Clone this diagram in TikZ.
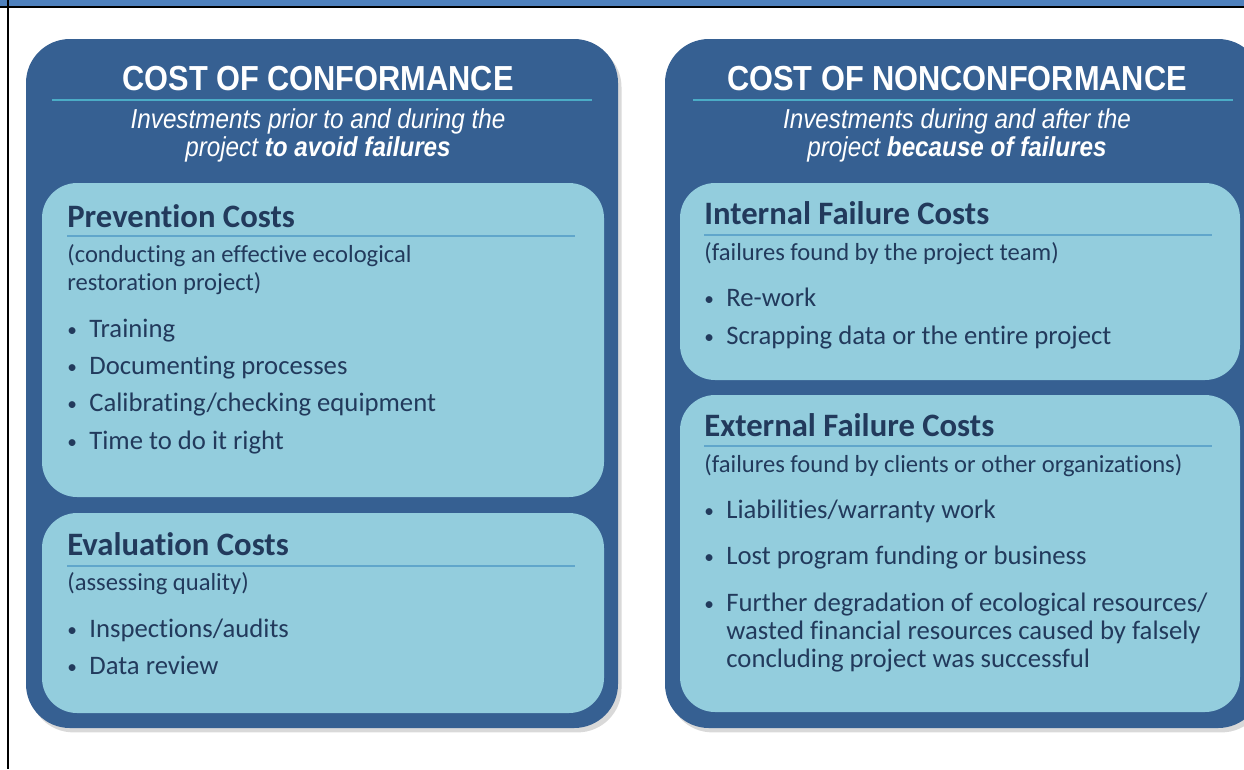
\documentclass[tikz,border=0pt]{standalone}
\usepackage{graphicx}
\usepackage{fontspec}
\setmainfont{Carlito}[Ligatures=NoCommon]
\newfontfamily\arialfont{Liberation Sans}
\usetikzlibrary{shadows}

\definecolor{bandblue}{RGB}{79,129,189}
\definecolor{panelblue}{RGB}{54,96,146}
\definecolor{boxblue}{RGB}{147,205,221}
\definecolor{inkblue}{RGB}{34,58,92}
\definecolor{ruleblue}{RGB}{96,166,203}
\definecolor{titlerule}{RGB}{75,172,198}

% Arial-style lettering in the panel headers is a bit taller than wide
\newcommand{\tallish}[1]{\scalebox{1}[1.13]{#1}}
\newcommand{\smallbullet}{{\fontsize{11}{11}\selectfont\raisebox{0.5pt}{\textbullet}}}

\tikzset{
  panel/.style={fill=panelblue, rounded corners=25pt,
    drop shadow={shadow xshift=2pt, shadow yshift=-2.5pt, opacity=0.3}},
  costbox/.style={fill=boxblue, rounded corners=20pt},
  title/.style={anchor=base, inner sep=0pt, text=white,
    font=\arialfont\bfseries\fontsize{17.5}{20}\selectfont},
  subtitle/.style={anchor=base, inner sep=0pt, text=white,
    font=\arialfont\itshape\fontsize{13.8}{16}\selectfont},
  titleline/.style={titlerule, line width=1pt},
  head/.style={anchor=base west, inner sep=0pt, text=inkblue,
    font=\bfseries\fontsize{18.6}{21}\selectfont},
  headline/.style={ruleblue, line width=1.2pt},
  note/.style={anchor=base west, inner sep=0pt, text=inkblue,
    font=\fontsize{14}{17}\selectfont},
  item/.style={anchor=base west, inner sep=0pt, text=inkblue,
    font=\fontsize{15.2}{18}\selectfont},
  bullet/.style={item, execute at begin node={\llap{\smallbullet\hskip7pt}}}
}

\begin{document}
\begin{tikzpicture}[x=0.02cm, y=-0.02cm]
\useasboundingbox (0,0) rectangle (1244,769);
\clip (0,0) rectangle (1244,769);

% page frame
\fill[bandblue] (0,0) rectangle (1244,7);
\draw[line width=1.3pt] (0,7) -- (1244,7);
\draw[line width=1.3pt] (8,0) -- (8,769);

% the two panels
\path[panel] (26,39) rectangle (618,728);
\path[panel] (665,39) rectangle (1262,728);

% cost of conformance
\node[title] (conf) at (318,90) {\tallish{COST OF CONFORMANCE}};
\draw[titleline] (52,100) -- (592,100);
\node[subtitle] (confa) at (318,128) {\tallish{Investments prior to and during the}};
\node[subtitle] (confb) at (318,156) {\tallish{project \textbf{to avoid failures}}};

\path[costbox] (42,183) rectangle (604,497);
\node[head] (prev) at (67,227) {Prevention Costs};
\draw[headline] (67,236) -- (575,236);
\node[note] (preva) at (67,262) {(conducting an effective ecological};
\node[note] (prevb) at (67,290) {restoration project)};
\node[bullet] (train) at (89,337) {Training};
\node[bullet] (docu) at (89,374) {Documenting processes};
\node[bullet] (calib) at (89,411) {Calibrating/checking equipment};
\node[bullet] (time) at (89,449) {Time to do it right};

\path[costbox] (42,513) rectangle (604,713);
\node[head] (eval) at (67,555) {Evaluation Costs};
\draw[headline] (67,566) -- (575,566);
\node[note] (evala) at (67,590) {(assessing quality)};
\node[bullet] (insp) at (89,637) {Inspections/audits};
\node[bullet] (data) at (89,674) {Data review};

% cost of nonconformance
\node[title] (nonconf) at (957,90) {\tallish{COST OF NONCONFORMANCE}};
\draw[titleline] (693,100) -- (1233,100);
\node[subtitle] (nonconfa) at (957,128) {\tallish{Investments during and after the}};
\node[subtitle] (nonconfb) at (957,156) {\tallish{project \textbf{because of failures}}};

\path[costbox] (680,183) rectangle (1240,380);
\node[head] (intern) at (704,224) {Internal Failure Costs};
\draw[headline] (704,235) -- (1212,235);
\node[note] (interna) at (704,260) {(failures found by the project team)};
\node[bullet] (rework) at (726,306) {Re-work};
\node[bullet] (scrap) at (726,344) {Scrapping data or the entire project};

\path[costbox] (680,395) rectangle (1240,712);
\node[head] (extern) at (704,436) {External Failure Costs};
\draw[headline] (704,446) -- (1212,446);
\node[note] (externa) at (704,472) {(failures found by clients or other organizations)};
\node[bullet] (liab) at (726,518) {Liabilities/warranty work};
\node[bullet] (lost) at (726,564) {Lost program funding or business};
\node[bullet] (further) at (726,611) {Further degradation of ecological resources/};
\node[item] (wasted) at (726,639) {wasted financial resources caused by falsely};
\node[item] (concl) at (726,667) {concluding project was successful};
\end{tikzpicture}
\end{document}
